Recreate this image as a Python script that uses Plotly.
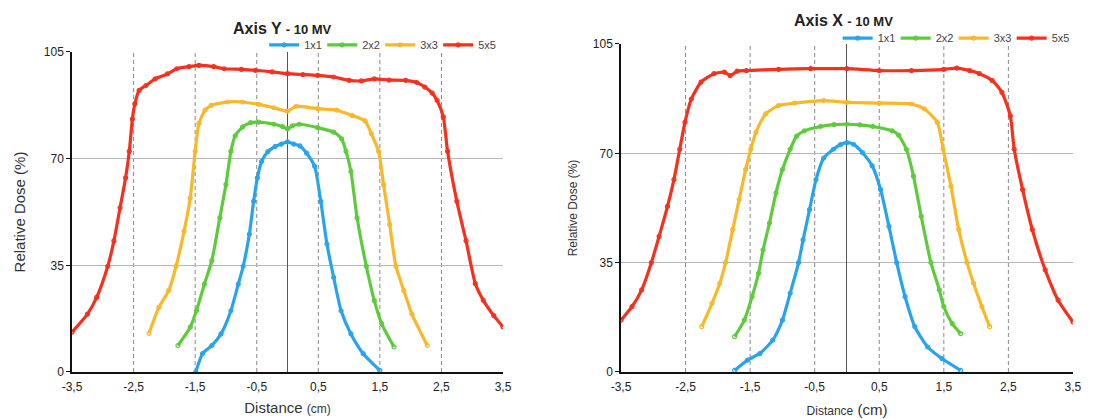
import plotly.graph_objects as go

# ---------------- data: Axis Y - 10 MV (left panel) ----------------
y1x1_d = [-1.49, -1.38, -1.23, -1.08, -0.92, -0.80, -0.72, -0.62, -0.55, -0.49, -0.42, -0.32, -0.20, -0.10, 0.0,
          0.10, 0.20, 0.31, 0.44, 0.54, 0.64, 0.75, 0.87, 1.03, 1.23, 1.50]
y1x1_v = [0, 6, 8.7, 12.5, 20.1, 28.8, 34.7, 45.2, 56, 63.7, 69.1, 72.3, 74.0, 74.8, 75.5,
          74.8, 74.2, 71.8, 67.5, 56, 42, 31, 20.1, 12.5, 6, 0.5]

y2x2_d = [-1.78, -1.58, -1.48, -1.35, -1.23, -1.10, -1.00, -0.92, -0.85, -0.73, -0.60, -0.47, -0.22, -0.08, 0.0,
          0.08, 0.19, 0.49, 0.75, 0.88, 0.95, 1.03, 1.13, 1.28, 1.41, 1.53, 1.73]
y2x2_v = [8.7, 14.7, 20.1, 28.8, 36.5, 50.6, 61.5, 72.4, 77.5, 80.4, 81.8, 82.0, 81.3, 80.5, 79.8,
          80.8, 81.3, 80.2, 78.7, 76.5, 72.4, 65.8, 50.6, 34.7, 23.4, 15.8, 8.2]

y3x3_d = [-2.25, -2.09, -1.93, -1.81, -1.68, -1.58, -1.50, -1.44, -1.34, -1.24, -0.98, -0.73, -0.47, -0.22, 0.0,
          0.14, 0.49, 0.80, 1.05, 1.26, 1.36, 1.48, 1.56, 1.66, 1.76, 1.89, 2.02, 2.27]
y3x3_v = [12.7, 21.2, 26.7, 34.7, 46.2, 57.1, 72.4, 81.5, 85.9, 87.5, 88.6, 88.6, 87.8, 86.7, 85.6,
          87.2, 86.4, 85.9, 84.2, 82.4, 78.2, 72.4, 61.5, 48.4, 34.7, 26.7, 19, 8.7]

y5x5_d = [-3.50, -3.25, -3.10, -2.92, -2.82, -2.72, -2.63, -2.57, -2.52, -2.48, -2.41, -2.30, -2.15, -1.95, -1.80,
          -1.60, -1.44, -1.20, -1.03, -0.75, -0.52, -0.25, 0.0, 0.25, 0.49, 0.75, 1.00, 1.20, 1.41, 1.65,
          1.92, 2.10, 2.23, 2.35, 2.43, 2.53, 2.60, 2.75, 2.90, 3.05, 3.18, 3.35, 3.50]
y5x5_v = [13.1, 19, 24.5, 34.7, 43, 53.9, 63.7, 72.4, 83, 88, 92.4, 94, 96.2, 97.8, 99.5,
          100.2, 100.6, 100.2, 99.5, 99.3, 99, 98.5, 97.9, 97.6, 97.3, 96.8, 95.7, 95.5, 96.2, 95.8,
          95.7, 95.0, 93.5, 91.5, 89.1, 83.7, 72.4, 56, 43, 29, 23.5, 18.5, 14.8]

# ---------------- data: Axis X - 10 MV (right panel) ----------------
x1x1_d = [-1.74, -1.54, -1.35, -1.15, -1.00, -0.88, -0.75, -0.68, -0.58, -0.48, -0.36, -0.21, -0.10, 0.0,
          0.10, 0.24, 0.39, 0.52, 0.65, 0.77, 0.90, 1.05, 1.25, 1.47, 1.76]
x1x1_v = [0.5, 3.8, 5.9, 10.2, 16.6, 25.2, 35, 42.3, 52, 61.6, 68.5, 71.3, 72.8, 73.4,
          72.9, 70.2, 66, 58.4, 46.6, 35, 24.1, 14.5, 8, 4.3, 0.5]

x2x2_d = [-1.74, -1.59, -1.47, -1.37, -1.30, -1.20, -1.10, -1.00, -0.88, -0.78, -0.66, -0.41, -0.20, 0.0,
          0.20, 0.40, 0.70, 0.80, 0.92, 1.03, 1.15, 1.30, 1.43, 1.50, 1.63, 1.76]
x2x2_v = [11.3, 16.6, 24.1, 31.6, 39.1, 47.7, 57.3, 64.8, 71.3, 75.5, 77.2, 78.6, 79.2, 79.3,
          79.1, 78.6, 77.2, 75.8, 71.3, 62.7, 49.8, 35, 26.3, 20.9, 15.5, 12.3]

x3x3_d = [-2.25, -2.09, -1.97, -1.88, -1.77, -1.67, -1.57, -1.49, -1.41, -1.26, -1.06, -0.81, -0.36, 0.0,
          0.50, 1.00, 1.20, 1.40, 1.49, 1.61, 1.73, 1.86, 1.96, 2.09, 2.21]
x3x3_v = [14.5, 22, 28.4, 35, 45.6, 55.2, 64.8, 71.3, 76.7, 82.6, 85.3, 86.1, 86.9, 86.3,
          86.1, 85.8, 84.2, 79.9, 71.3, 59.5, 45.6, 35, 28.4, 20.9, 14.5]

x5x5_d = [-3.50, -3.33, -3.18, -3.03, -2.91, -2.78, -2.68, -2.59, -2.51, -2.41, -2.26, -2.06, -1.90, -1.81,
          -1.70, -1.56, -1.06, -0.56, 0.0, 0.50, 1.00, 1.50, 1.70, 1.90, 2.05, 2.25, 2.40, 2.53, 2.59,
          2.72, 2.87, 3.07, 3.27, 3.50]
x5x5_v = [16.6, 20.9, 26.3, 35, 43.4, 53, 61.6, 71.3, 79.9, 87.4, 92.8, 95.5, 96.0, 94.9,
          96.3, 96.5, 96.9, 97.1, 97.1, 96.5, 96.5, 96.9, 97.3, 96.5, 95.5, 93.3, 89.5, 82, 71.3,
          58.4, 45.6, 32.7, 23, 16]

series_names = ["1x1", "2x2", "3x3", "5x5"]
colors = ["#27A4EC", "#5DCB3B", "#F7B829", "#F5301C"]

x_tickvals = [-3.5, -2.5, -1.5, -0.5, 0.5, 1.5, 2.5, 3.5]
x_ticktext = ["-3,5", "-2,5", "-1,5", "-0,5", "0,5", "1,5", "2,5", "3,5"]
y_tickvals = [0, 35, 70, 105]
dashed_x = [-2.5, -1.5, -0.5, 0.5, 1.5, 2.5]

left_series = [(y1x1_d, y1x1_v), (y2x2_d, y2x2_v), (y3x3_d, y3x3_v), (y5x5_d, y5x5_v)]
right_series = [(x1x1_d, x1x1_v), (x2x2_d, x2x2_v), (x3x3_d, x3x3_v), (x5x5_d, x5x5_v)]

FONT = "Liberation Sans, Arial, Helvetica, sans-serif"


def make_trace(d, v, name, c, xa, ya, lg):
    return go.Scatter(x=d, y=v, name=name, mode="lines+markers", xaxis=xa, yaxis=ya,
                      line=dict(color=c, width=3.2, shape="spline", smoothing=0.6),
                      marker=dict(symbol="circle-open", size=4, color=c, line=dict(width=1.2)),
                      legend=lg)


fig = go.Figure()
for (d, v), name, c in zip(left_series, series_names, colors):
    fig.add_trace(make_trace(d, v, name, c, "x", "y", "legend"))
for (d, v), name, c in zip(right_series, series_names, colors):
    fig.add_trace(make_trace(d, v, name, c, "x2", "y2", "legend2"))

for xr, yr in [("x", "y"), ("x2", "y2")]:
    for g in dashed_x:
        fig.add_shape(type="line", xref=xr, yref=yr + " domain", x0=g, x1=g, y0=0, y1=1,
                      line=dict(color="#888888", width=1, dash="4px,3px"), layer="below")

axis_common = dict(showline=True, linecolor="#111", linewidth=1.5, tickfont=dict(size=12, color="#222"))

legend_common = dict(orientation="h", yanchor="middle", xanchor="right",
                     bgcolor="rgba(0,0,0,0)", font=dict(size=11, color="#444"), itemwidth=30,
                     entrywidth=13, entrywidthmode="pixels", tracegroupgap=0)

fig.update_layout(
    width=1105, height=419,
    margin=dict(l=0, r=0, t=0, b=0),
    paper_bgcolor="white", plot_bgcolor="white",
    font=dict(family=FONT, color="#333"),
    xaxis=dict(domain=[0.0652, 0.4552], anchor="y", range=[-3.5, 3.5],
               tickvals=x_tickvals, ticktext=x_ticktext, showgrid=False,
               zeroline=True, zerolinecolor="#555", zerolinewidth=1, ticks="",
               ticklabelstandoff=3,
               title=dict(text="Distance <span style='font-size:12px'>(cm)</span>",
                          font=dict(size=15, color="#333"), standoff=9),
               automargin=False, **axis_common),
    yaxis=dict(domain=[0.1122, 0.8759], anchor="x", range=[0, 105], tickvals=y_tickvals,
               showgrid=True, gridcolor="#b8b8b8", gridwidth=1, zeroline=False,
               ticks="outside", ticklen=4, tickcolor="#111",
               title=dict(text="Relative Dose (%)", font=dict(size=15, color="#333"), standoff=15),
               automargin=False, **axis_common),
    xaxis2=dict(domain=[0.5620, 0.9710], anchor="y2", range=[-3.5, 3.5],
                tickvals=x_tickvals, ticktext=x_ticktext, showgrid=False,
                zeroline=True, zerolinecolor="#555", zerolinewidth=1, ticks="",
                ticklabelstandoff=3,
                title=dict(text="<span style='font-size:12px'>Distance</span> (cm)",
                           font=dict(size=15, color="#333"), standoff=11),
                automargin=False, **axis_common),
    yaxis2=dict(domain=[0.1122, 0.8950], anchor="x2", range=[0, 105], tickvals=y_tickvals,
                showgrid=True, gridcolor="#b8b8b8", gridwidth=1, zeroline=False,
                ticks="outside", ticklen=4, tickcolor="#111",
                title=dict(text="Relative Dose (%)", font=dict(size=12, color="#333"), standoff=13),
                automargin=False, **axis_common),
    legend=dict(x=0.449, y=0.893, **legend_common),
    legend2=dict(x=0.968, y=0.909, **legend_common),
    showlegend=True,
    annotations=[
        dict(text="<b>Axis Y <span style='font-size:13px'>- 10 MV</span></b>", x=0.256, y=0.931,
             xref="paper", yref="paper", showarrow=False, font=dict(size=16, color="#222"),
             xanchor="center", yanchor="middle"),
        dict(text="<b>Axis X <span style='font-size:13px'>- 10 MV</span></b>", x=0.763, y=0.952,
             xref="paper", yref="paper", showarrow=False, font=dict(size=16, color="#222"),
             xanchor="center", yanchor="middle"),
    ],
)

fig.write_html("out.html", config={"displayModeBar": False},
               post_script="document.body.style.margin='0';document.body.style.overflow='hidden';")
